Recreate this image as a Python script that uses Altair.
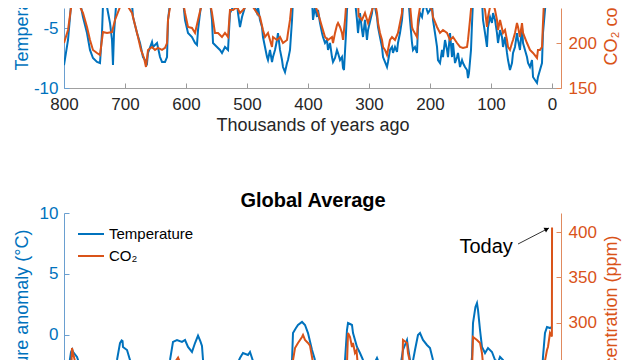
import altair as alt
import pandas as pd

# ---------------- data ----------------
# Antarctic temperature anomaly (upper panel): (thousands of years ago, deg C)
ANTARCTIC = [
    (800.0, -8.1), (793.4, -6.0), (790.0, -4.0), (786.9, -2.0), (782.0, 0.5), (777.0, -2.0),
    (768.9, -4.08), (762.3, -5.42), (757.4, -6.83), (752.5, -7.5), (745.9, -7.83), (741.0, -7.92),
    (737.7, -5.42), (736.1, -3.08), (729.5, -3.25), (724.6, -4.58), (721.3, -6.0), (719.7, -8.08),
    (718.0, -5.42), (714.8, -3.25), (711.5, -2.2), (704.9, -2.67), (700.0, -2.9), (695.0, -2.5),
    (690.0, -2.0), (686.9, -4.08), (680.3, -5.42), (675.4, -6.25), (670.5, -7.42), (663.9, -7.92),
    (662.3, -7.08), (655.7, -6.17), (654.1, -6.58), (647.5, -6.25), (642.6, -7.42), (639.3, -7.83),
    (634.4, -7.83), (631.1, -7.42), (629.5, -4.33), (626.2, -2.92), (620.0, -1.5), (612.0, -1.8),
    (604.9, -2.67), (601.6, -4.33), (596.7, -5.42), (590.2, -5.75), (585.2, -6.25), (582.0, -6.42),
    (580.3, -5.17), (577.0, -3.75), (573.8, -2.67), (568.0, -1.5), (562.0, -2.0), (560.7, -2.67),
    (557.4, -4.33), (555.7, -6.25), (549.2, -6.58), (544.3, -6.83), (541.0, -7.08), (536.1, -6.58),
    (531.1, -6.83), (527.9, -3.75), (522.9, -3.25), (516.4, -2.92), (514.8, -3.75), (511.5, -4.92),
    (508.2, -4.08), (503.3, -3.25), (498.4, -2.67), (496.0, -2.4), (490.2, -2.92), (483.6, -3.75),
    (482.0, -3.25), (478.7, -4.33), (475.4, -4.92), (473.8, -5.75), (470.5, -6.58), (467.2, -7.42),
    (465.6, -7.67), (462.3, -6.83), (459.0, -7.83), (457.4, -7.42), (454.1, -6.83), (450.8, -6.0),
    (449.2, -5.42), (445.9, -6.83), (442.6, -7.67), (441.0, -8.25), (437.7, -8.67), (434.4, -7.92),
    (432.8, -7.67), (429.5, -6.83), (426.2, -4.33), (424.6, -2.67), (418.0, -1.0), (410.0, 0.5),
    (400.0, -1.0), (393.4, -2.67), (391.8, -4.33), (388.5, -3.25), (385.2, -4.08), (383.6, -3.5),
    (380.3, -4.58), (377.0, -5.42), (375.4, -5.75), (372.1, -6.25), (368.9, -6.0), (367.2, -6.83),
    (363.9, -6.25), (360.7, -7.42), (359.0, -7.83), (355.7, -7.5), (352.5, -6.83), (350.8, -7.08),
    (347.5, -7.67), (344.3, -7.42), (342.6, -8.33), (341.0, -8.5), (337.7, -5.42), (336.1, -3.5),
    (334.4, -2.67), (330.0, 0.5), (326.0, -1.0), (323.0, -2.67), (319.7, -4.33), (318.0, -5.42),
    (314.8, -3.75), (311.5, -5.17), (309.8, -5.75), (306.6, -4.33), (303.3, -6.0), (301.6, -5.17),
    (295.1, -3.75), (293.4, -2.92), (290.2, -3.25), (286.9, -4.08), (285.2, -4.92), (282.0, -5.75),
    (278.7, -6.58), (277.0, -7.42), (273.8, -7.83), (270.5, -8.25), (268.9, -7.83), (265.6, -6.83),
    (262.3, -6.58), (260.7, -7.08), (257.4, -6.58), (254.1, -7.0), (252.5, -6.25), (249.2, -5.42),
    (245.9, -4.33), (244.3, -3.25), (241.0, -2.0), (237.0, -1.5), (232.8, -4.33), (229.5, -6.25),
    (227.9, -6.83), (224.6, -6.58), (221.3, -7.08), (219.7, -4.92), (216.4, -3.75), (213.1, -4.08),
    (211.5, -3.5), (208.2, -2.92), (205.0, -3.5), (203.3, -3.75), (200.0, -3.5), (196.7, -2.92),
    (195.1, -4.33), (191.8, -5.42), (188.5, -6.58), (186.9, -7.67), (183.6, -7.92), (180.3, -6.83),
    (178.7, -7.42), (175.4, -6.0), (172.1, -6.83), (170.5, -7.42), (167.2, -5.42), (163.9, -7.42),
    (162.3, -6.25), (159.0, -7.92), (155.7, -7.42), (154.1, -7.08), (150.8, -8.25), (147.5, -7.67),
    (145.9, -7.92), (142.6, -8.25), (139.3, -8.5), (137.7, -9.17), (136.1, -8.75), (132.8, -6.83),
    (131.1, -4.58), (128.0, -1.0), (125.0, 1.5), (120.0, 0.0), (114.8, -2.67), (113.1, -4.33),
    (109.8, -5.42), (106.6, -6.58), (104.9, -4.92), (101.6, -4.08), (98.4, -4.58), (96.7, -3.75),
    (93.4, -4.33), (90.2, -5.42), (88.5, -6.25), (85.2, -5.17), (82.0, -5.75), (80.3, -6.58),
    (77.0, -5.75), (73.8, -7.08), (72.1, -7.67), (68.9, -8.5), (65.6, -7.92), (63.9, -7.08),
    (60.7, -6.58), (57.4, -5.42), (55.7, -6.0), (52.5, -6.83), (49.2, -4.92), (47.5, -6.25),
    (44.3, -6.83), (41.0, -7.42), (39.3, -7.92), (36.1, -8.25), (32.8, -7.67), (31.1, -9.08),
    (27.9, -9.33), (24.6, -9.58), (23.0, -9.08), (19.7, -8.5), (16.4, -7.92), (14.8, -5.42),
    (11.5, -3.5), (8.0, -1.5), (4.0, -0.5), (0.0, -0.5),
]

# CO2 concentration (both panels): (thousands of years ago, ppm)
CO2 = [
    (800.0, 200.0), (793.4, 214.5), (788.5, 239.0), (786.9, 272.5), (785.2, 267.0), (782.0, 258.0),
    (780.0, 250.0), (777.0, 245.0), (768.9, 233.4), (762.3, 217.8), (757.4, 203.4), (752.5, 192.3),
    (745.9, 188.9), (741.0, 186.7), (736.1, 212.2), (729.5, 211.2), (721.3, 212.2), (716.4, 225.6),
    (708.2, 240.0), (696.7, 242.2), (688.5, 233.4), (683.6, 220.0), (678.7, 206.7), (673.8, 192.3),
    (668.8, 183.4), (665.6, 173.4), (662.3, 192.3), (655.7, 195.6), (650.8, 192.3), (645.9, 194.5),
    (639.3, 192.3), (634.4, 194.5), (631.1, 200.0), (629.5, 225.6), (626.2, 240.0), (620.0, 255.0),
    (613.0, 262.0), (606.0, 250.0), (601.6, 233.4), (596.7, 217.8), (590.2, 216.7), (585.2, 211.2),
    (580.3, 225.6), (573.8, 244.5), (568.0, 255.0), (562.0, 250.0), (557.4, 233.4), (552.5, 211.2),
    (547.5, 211.2), (541.0, 206.7), (536.1, 211.2), (531.1, 206.7), (527.9, 236.7), (522.9, 236.7),
    (516.4, 240.0), (511.5, 233.4), (506.6, 236.7), (500.0, 242.2), (495.1, 244.5), (490.2, 240.0),
    (483.6, 233.4), (478.7, 228.9), (473.8, 214.5), (470.5, 206.7), (465.6, 211.2), (462.3, 203.4),
    (459.0, 195.6), (457.4, 206.7), (450.8, 203.4), (445.9, 206.7), (441.0, 200.0), (434.4, 203.4),
    (432.8, 211.2), (429.5, 225.6), (426.2, 247.8), (424.6, 259.0), (421.3, 272.5), (416.4, 278.0),
    (409.8, 284.6), (408.2, 286.8), (404.9, 281.3), (400.0, 278.0), (396.7, 275.0), (393.4, 262.6),
    (388.5, 242.2), (383.6, 233.4), (377.0, 217.8), (372.1, 206.7), (367.2, 203.4), (360.7, 206.7),
    (359.0, 200.0), (355.7, 211.2), (352.5, 220.0), (350.8, 222.2), (347.5, 217.8), (344.3, 211.2),
    (342.6, 203.4), (339.3, 225.6), (336.1, 255.0), (334.4, 289.0), (331.1, 284.6), (327.9, 273.6),
    (326.2, 278.0), (323.0, 267.0), (320.5, 270.0), (318.5, 255.0), (317.0, 230.0), (311.5, 225.6),
    (306.6, 233.4), (301.6, 222.2), (295.1, 236.7), (290.2, 244.5), (286.9, 233.4), (285.2, 222.2),
    (282.0, 211.2), (278.7, 203.4), (277.0, 195.6), (273.8, 192.3), (270.5, 186.7), (268.9, 192.3),
    (265.6, 203.4), (262.3, 206.7), (257.4, 203.4), (252.5, 211.2), (249.2, 222.2), (245.9, 233.4),
    (244.3, 281.3), (237.7, 278.0), (236.1, 267.0), (233.5, 259.0), (232.0, 236.7), (229.5, 217.8),
    (227.9, 214.5), (221.3, 206.7), (219.7, 225.6), (216.4, 240.0), (211.5, 240.0), (205.0, 244.5),
    (200.0, 240.0), (196.7, 236.7), (195.1, 228.9), (188.5, 217.8), (183.6, 211.2), (178.7, 214.5),
    (172.1, 211.2), (167.2, 203.4), (162.3, 206.7), (155.7, 200.0), (150.8, 195.6), (145.9, 194.5),
    (139.3, 195.6), (137.7, 203.4), (134.4, 225.6), (131.1, 250.0), (129.5, 284.6), (123.0, 281.3),
    (118.0, 278.0), (114.8, 267.0), (113.1, 255.0), (111.5, 240.0), (109.8, 236.7), (106.6, 217.8),
    (104.9, 228.9), (101.6, 240.0), (96.7, 244.5), (93.4, 236.7), (90.2, 225.6), (88.5, 214.5),
    (85.2, 225.6), (80.3, 211.2), (77.0, 214.5), (73.8, 203.4), (72.1, 195.6), (68.9, 192.3),
    (65.6, 200.0), (63.9, 203.4), (60.7, 211.2), (57.4, 222.2), (55.7, 217.8), (52.5, 206.7),
    (49.2, 222.2), (47.5, 211.2), (41.0, 200.0), (36.1, 192.3), (31.1, 188.9), (24.6, 183.4),
    (23.0, 192.3), (19.7, 192.3), (16.4, 195.6), (14.8, 222.2), (12.5, 255.0), (8.2, 270.3),
    (6.6, 273.6), (3.3, 289.0), (0.2, 285.0), (-0.07, 405.0),
]

# Global average temperature anomaly (lower panel): (thousands of years ago, deg C)
GLOBAL = [
    (800.0, -4.5), (792.0, -2.6), (788.5, -1.4), (786.5, -1.2), (785.2, -1.39), (778.7, -1.8),
    (777.0, -2.05), (772.0, -3.5), (755.0, -5.0), (740.0, -5.3), (725.0, -3.8), (716.0, -2.6),
    (713.1, -2.05), (708.2, -0.66), (705.5, -0.45), (704.0, -0.5), (703.3, -0.98), (696.7, -1.23),
    (691.8, -2.05), (686.0, -3.2), (670.0, -4.8), (650.0, -4.2), (638.0, -4.6), (630.0, -3.0),
    (626.2, -2.05), (621.3, -0.57), (614.8, -0.41), (606.6, -0.57), (601.6, -0.41), (596.7, -0.98),
    (590.2, -1.39), (585.2, -0.66), (580.3, -0.05), (576.5, -0.5), (573.8, -0.9), (572.1, -2.05),
    (566.0, -3.2), (545.0, -4.5), (530.0, -3.5), (518.0, -2.6), (511.5, -1.89), (506.6, -1.48),
    (498.4, -1.64), (495.1, -1.39), (491.8, -1.89), (486.0, -2.8), (465.0, -4.6), (440.0, -5.3),
    (432.0, -4.0), (427.5, -2.5), (426.2, -2.05), (424.6, 0.16), (420.0, 0.55), (416.4, 0.82),
    (409.8, 1.07), (404.9, 0.82), (400.0, 0.16), (393.4, -1.23), (388.5, -2.05), (380.0, -3.2),
    (360.0, -4.2), (345.0, -3.8), (341.0, -2.6), (339.3, -2.05), (336.1, 0.41), (334.4, 0.98),
    (331.0, 0.9), (327.9, 0.82), (326.2, 0.16), (319.7, -0.98), (314.8, -1.48), (309.8, -2.05),
    (300.0, -3.0), (292.0, -2.4), (286.9, -1.89), (282.0, -2.5), (270.0, -4.5), (255.0, -3.5),
    (248.0, -2.4), (244.3, -1.23), (237.7, -0.41), (236.1, -0.98), (232.8, -2.05), (229.0, -2.4),
    (224.6, -1.23), (219.7, 0.0), (216.4, 0.16), (211.5, -0.41), (205.0, -0.82), (200.0, -1.07),
    (195.1, -2.05), (188.0, -3.2), (170.0, -4.2), (150.0, -4.8), (137.0, -4.0), (132.5, -2.4),
    (131.1, -1.8), (129.5, 0.98), (125.5, 2.3), (123.0, 2.62), (121.3, 2.05), (118.0, 0.41),
    (114.8, -0.98), (109.8, -1.48), (104.9, -1.07), (98.4, -1.39), (93.4, -2.05), (88.0, -2.2),
    (85.2, -1.8), (80.3, -2.05), (74.0, -3.0), (60.0, -3.6), (40.0, -4.4), (22.0, -5.6),
    (16.0, -3.0), (14.8, -1.8), (11.5, 0.16), (8.2, 0.66), (3.3, 0.57), (0.0, 0.66),
]

SERIES = ["Temperature", "CO₂"]
X_TICKS = [800, 700, 600, 500, 400, 300, 200, 100, 0]
TOP_T_TICKS = [-10, -5]
TOP_C_TICKS = [150, 200, 250]
BOT_T_TICKS = [-5, 0, 5, 10]
BOT_C_TICKS = [250, 300, 350, 400]

# annotation anchors, in data coordinates of the lower panel
TITLE_POS = {"ka": 391.8, "gtemp": 10.49, "label": "Global Average"}
TODAY_POS = {"ka": 108.0, "co2": 383.5, "label": "Today"}
ARROW = {"ka": 55.7, "co2": 386.8, "ka2": 4.9, "co2_2": 404.4}
ARROW_HEAD = {"ka": 8.5, "co2": 403.2}

# ---------------- styling ----------------
BLUE = "#0072BD"
ORANGE = "#D95319"
BLUE_AX = "#6a9fd0"
ORANGE_AX = "#e08a5e"
DARK = "#262626"
FONT = "Liberation Sans"

W, H = 497, 352

ant = pd.DataFrame(ANTARCTIC, columns=["ka", "temp"]).assign(series=SERIES[0])
co2 = pd.DataFrame(CO2, columns=["ka", "co2"]).assign(series=SERIES[1])
glob = pd.DataFrame(GLOBAL, columns=["ka", "gtemp"]).assign(series=SERIES[0])

# x axis drawn as a "top" axis moved down onto the upper panel, so its ticks point inward
x_enc = alt.X(
    "ka:Q",
    scale=alt.Scale(domain=[-14.75, 800], reverse=True, nice=False, zero=False),
    axis=alt.Axis(
        values=X_TICKS, title="Thousands of years ago", orient="top", offset=-80,
        labelFlush=False, labelOverlap=False, ticks=True, tickSize=5, tickColor="#9a9a9a",
        labelPadding=-13, labelBaseline="top",
        labelFontSize=17, labelColor=DARK, labelFont=FONT,
        titleFont=FONT, titleFontSize=18, titleFontWeight="normal", titleColor=DARK,
        titleY=42, titleBaseline="alphabetic",
        domainColor="#a0a0a0", domainWidth=1, grid=False,
    ),
)

color_enc = alt.Color(
    "series:N",
    scale=alt.Scale(domain=SERIES, range=[BLUE, ORANGE]),
    legend=alt.Legend(
        orient="none", legendX=13, legendY=212, title=None, symbolType="stroke",
        symbolSize=676, symbolStrokeWidth=2, labelFontSize=15, labelFont=FONT,
        labelColor="#000000", padding=0, rowPadding=-4, labelOffset=4,
    ),
)


def y_axis(side, values, color, dcolor, title_y, align, title_x):
    # axis placed on `side` of the plot with the opposite orient so its ticks point inward
    if side == "left":
        orient, label_align, pad = "right", "right", -11
    else:
        orient, label_align, pad = "left", "left", -12
    return alt.Axis(
        orient=orient, offset=-W, values=values, labelExpr="'' + datum.value",
        ticks=True, tickSize=5, tickColor=dcolor, labelPadding=pad, labelAlign=label_align,
        labelFontSize=17, labelFont=FONT, labelColor=color, labelOverlap=False,
        domainColor=dcolor, domainWidth=1, grid=False,
        titleAngle=270, titleAlign=align, titleBaseline="alphabetic",
        titleX=title_x, titleY=title_y, titleColor=color, titleFontSize=18,
        titleFont=FONT, titleFontWeight="normal",
    )


T_TITLE = "Temperature anomaly (°C)"
C_TITLE = "CO₂ concentration (ppm)"

y_top_t = alt.Y("temp:Q", title=T_TITLE,
                scale=alt.Scale(domain=[-10, -3.333], range=[80, 0], nice=False, zero=False),
                axis=y_axis("left", TOP_T_TICKS, BLUE, BLUE_AX, 62, "left", -36.5))
y_top_c = alt.Y("co2:Q", title=C_TITLE,
                scale=alt.Scale(domain=[150, 238.9], range=[80, 0], nice=False, zero=False),
                axis=y_axis("right", TOP_C_TICKS, ORANGE, ORANGE_AX, 57, "left", 55))
y_bot_t = alt.Y("gtemp:Q", title=T_TITLE,
                scale=alt.Scale(domain=[-2.05, 10], range=[352, 205], nice=False, zero=False),
                axis=y_axis("left", BOT_T_TICKS, BLUE, BLUE_AX, 221, "right", -36.5))
y_bot_c = alt.Y("co2:Q", title=C_TITLE,
                scale=alt.Scale(domain=[259.3, 420.9], range=[352, 205], nice=False, zero=False),
                axis=y_axis("right", BOT_C_TICKS, ORANGE, ORANGE_AX, 227, "right", 55))

line = dict(strokeWidth=2, clip=True)

top_temp = alt.Chart(ant).mark_line(**line).encode(x=x_enc, y=y_top_t, color=color_enc)
top_co2 = alt.Chart(co2).mark_line(**line).encode(x=x_enc, y=y_top_c, color=color_enc)

bot_temp_line = alt.Chart(glob).mark_line(**line).encode(x=x_enc, y=y_bot_t, color=color_enc)
title_txt = alt.Chart(pd.DataFrame([TITLE_POS])).mark_text(
    font=FONT, fontSize=20, fontWeight="bold", align="center", baseline="alphabetic", color="#000000"
).encode(x=x_enc, y=y_bot_t, text="label:N")
bot_temp = alt.layer(bot_temp_line, title_txt)

bot_co2_line = alt.Chart(co2).mark_line(**line).encode(x=x_enc, y=y_bot_c, color=color_enc)
today_txt = alt.Chart(pd.DataFrame([TODAY_POS])).mark_text(
    font=FONT, fontSize=20, align="center", baseline="middle", color="#000000"
).encode(x=x_enc, y=y_bot_c, text="label:N")
arrow_rule = alt.Chart(pd.DataFrame([ARROW])).mark_rule(color="#000000", strokeWidth=0.8).encode(
    x=x_enc, x2="ka2:Q", y=y_bot_c, y2="co2_2:Q")
arrow_head = alt.Chart(pd.DataFrame([ARROW_HEAD])).mark_point(
    shape="triangle-right", filled=True, size=28, angle=332.7, color="#000000", opacity=1
).encode(x=x_enc, y=y_bot_c)
bot_co2 = alt.layer(bot_co2_line, today_txt, arrow_rule, arrow_head)

chart = alt.layer(top_temp, top_co2, bot_temp, bot_co2).resolve_scale(
    y="independent"
).properties(
    width=W, height=H,
    background="#ffffff",
    autosize=alt.AutoSizeParams(type="none"),
    padding={"left": 56, "top": 0, "right": 71, "bottom": 0},
).configure_view(stroke=None)

chart.save("out.html", embed_options={"renderer": "svg", "actions": False})
